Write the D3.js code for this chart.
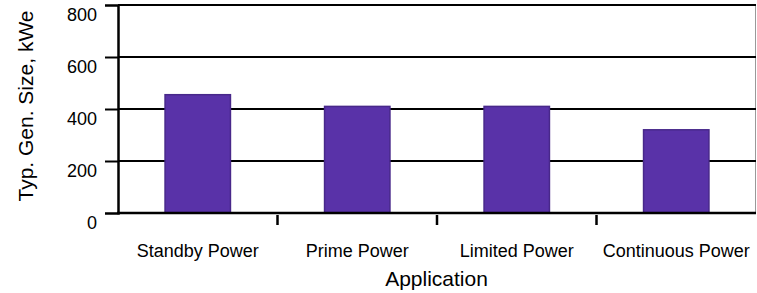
<!DOCTYPE html>
<html lang="en">
<head>
<meta charset="UTF-8">
<title>Typical generator size by application</title>
<script src="https://d3js.org/d3.v7.min.js"></script>
<style>
  body { margin: 0; background: #fff; }
  svg text { font-family: "Liberation Sans", Arial, sans-serif; fill: #000; }
</style>
</head>
<body>
<svg id="chart" width="757" height="293"></svg>
<script>
// data
var categories = ['Standby Power', 'Prime Power', 'Limited Power', 'Continuous Power']
var sizes = [455, 410, 410, 320]
var yTicks = [0, 200, 400, 600, 800]

const width = 757
const height = 293
const margin = { top: 5, right: 1, bottom: 80, left: 118 }

const svg = d3.select('#chart')

const x = d3.scaleBand()
    .domain(categories)
    .range([margin.left, width - margin.right])
    .paddingInner(0)
    .paddingOuter(0)

const y = d3.scaleLinear()
    .domain([0, 800])
    .range([height - margin.bottom, margin.top])

// right border (thin gray)
svg.append('line')
    .attr('x1', width - margin.right - 0.5).attr('x2', width - margin.right - 0.5)
    .attr('y1', y(800)).attr('y2', y(0))
    .attr('stroke', '#999').attr('stroke-width', 1)

// horizontal gridlines incl. top border
svg.selectAll('.grid')
    .data(yTicks.filter(d => d > 0))
    .enter()
    .append('line')
    .attr('class', 'grid')
    .attr('x1', margin.left)
    .attr('x2', width - margin.right)
    .attr('y1', d => y(d))
    .attr('y2', d => y(d))
    .attr('stroke', '#000')
    .attr('stroke-width', 2)

// bars
svg.selectAll('rect.bar')
    .data(sizes)
    .enter()
    .append('rect')
    .attr('class', 'bar')
    .attr('x', (d, i) => x(categories[i]) + x.bandwidth() * 0.295)
    .attr('width', x.bandwidth() * 0.41)
    .attr('y', d => y(d))
    .attr('height', d => y(0) - y(d))
    .attr('fill', '#5932a8')
    .attr('stroke', '#48288a')
    .attr('stroke-width', 1.5)

// y axis
const yAxis = svg.append('g')
    .attr('transform', `translate(${margin.left},0)`)
    .call(d3.axisLeft(y).tickValues(yTicks).tickSize(13).tickPadding(8).tickFormat(d3.format('d')))
yAxis.select('.domain').attr('stroke', '#000').attr('stroke-width', 2.5)
yAxis.selectAll('.tick line').attr('stroke', '#000').attr('stroke-width', 2)
yAxis.selectAll('.tick').filter(d => d === 0 || d === 800).select('line').remove()
// labels in the reference sit a little below their gridlines
yAxis.selectAll('.tick text')
    .attr('font-size', 18)
    .attr('x', -21)
    .attr('y', 9)
    .attr('dy', '0.35em')
    .style('font-family', '"Liberation Sans", Arial, sans-serif')

// x axis baseline
svg.append('line')
    .attr('x1', margin.left - 1).attr('x2', width - margin.right)
    .attr('y1', y(0)).attr('y2', y(0))
    .attr('stroke', '#000').attr('stroke-width', 2.5)

// category separators below axis
svg.selectAll('.sep')
    .data(categories.slice(1))
    .enter()
    .append('line')
    .attr('class', 'sep')
    .attr('x1', d => x(d)).attr('x2', d => x(d))
    .attr('y1', y(0) + 2).attr('y2', y(0) + 12)
    .attr('stroke', '#000').attr('stroke-width', 2.5)

// category labels
svg.selectAll('.cat')
    .data(categories)
    .enter()
    .append('text')
    .attr('class', 'cat')
    .attr('x', d => x(d) + x.bandwidth() / 2)
    .attr('y', 256.5)
    .attr('text-anchor', 'middle')
    .attr('font-size', 18)
    .text(d => d)

// axis titles
svg.append('text')
    .attr('x', (margin.left + width) / 2 - 1)
    .attr('y', 286)
    .attr('text-anchor', 'middle')
    .attr('font-size', 21)
    .text('Application')

svg.append('text')
    .attr('transform', 'translate(33,106) rotate(-90)')
    .attr('text-anchor', 'middle')
    .attr('font-size', 21)
    .text('Typ. Gen. Size, kWe')
</script>
</body>
</html>
